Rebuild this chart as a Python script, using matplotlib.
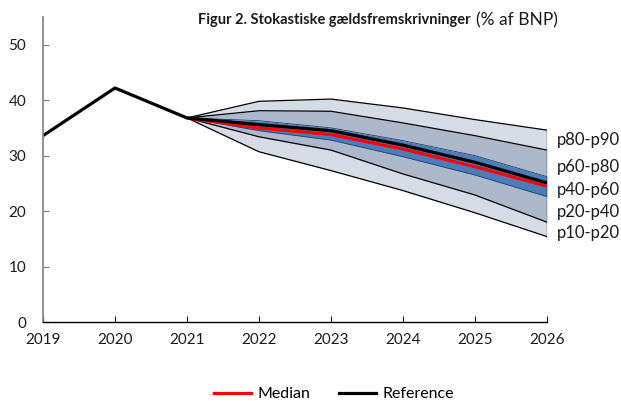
import matplotlib.pyplot as plt
from matplotlib.lines import Line2D

plt.rcParams['font.family'] = ['Lato', 'DejaVu Sans']

years = [2019, 2020, 2021, 2022, 2023, 2024, 2025, 2026]
reference = [33.6, 42.2, 36.8, 35.6, 34.5, 31.9, 28.8, 25.1]

fan_years = [2021, 2022, 2023, 2024, 2025, 2026]
median = [36.8, 35.0, 33.8, 31.2, 28.0, 24.5]
p10 = [36.8, 30.7, 27.3, 23.7, 19.7, 15.4]
p20 = [36.8, 33.4, 31.0, 26.7, 22.9, 18.0]
p40 = [36.8, 34.5, 32.8, 29.8, 26.5, 22.6]
p60 = [36.8, 36.3, 35.0, 32.7, 30.0, 26.2]
p80 = [36.8, 38.1, 38.0, 35.9, 33.6, 31.0]
p90 = [36.8, 39.8, 40.2, 38.6, 36.5, 34.6]

band_labels = ["p80-p90", "p60-p80", "p40-p60", "p20-p40", "p10-p20"]
label_y = [32.8, 28.0, 23.8, 19.8, 16.0]

light = "#d6dce5"
mid = "#adb9ca"
blue = "#4a7ebb"

fig = plt.figure(figsize=(6.21, 4.01), dpi=100)
ax = fig.add_axes([0.0692, 0.197, 0.8116, 0.7606])

bands = [(p10, p20, light), (p20, p40, mid), (p40, p60, blue),
         (p60, p80, mid), (p80, p90, light)]
for lo, hi, c in bands:
    ax.fill_between(fan_years, lo, hi, color=c, lw=0)
for s in [p10, p20, p80, p90]:
    ax.plot(fan_years, s, color="black", lw=0.9)
for s in [p40, p60]:
    ax.plot(fan_years, s, color="#1f3d66", lw=0.6)
ax.plot([2026, 2026], [p10[-1], p90[-1]], color="black", lw=0.9)

ax.plot(fan_years, median, color="#ff0000", lw=2.3, solid_capstyle="butt")
ax.plot(years, reference, color="black", lw=2.3, solid_capstyle="butt")

# labels for the bands, right of the fan
for lab, y in zip(band_labels, label_y):
    ax.text(2026.14, y, lab, fontsize=12, va="center", ha="left", color="#1a1a1a")

ax.set_xlim(2019, 2026)
ax.set_ylim(0, 55)
ax.set_yticks(range(0, 51, 10))
ax.set_xticks(years)
ax.tick_params(axis="both", direction="in", length=4, labelsize=11, colors="#1a1a1a")
ax.tick_params(axis="y", pad=12, color="#7f7f7f")
ax.tick_params(axis="x", pad=8)
ax.spines["top"].set_visible(False)
ax.spines["right"].set_visible(False)
ax.spines["left"].set_color("#7f7f7f")
ax.spines["left"].set_linewidth(1.2)
ax.spines["bottom"].set_color("black")
ax.spines["bottom"].set_linewidth(1.0)

fig.text(471 / 621, 1 - 20 / 401, "Figur 2. Stokastiske gældsfremskrivninger",
         fontsize=10.5, fontweight="bold", ha="right", va="center", color="#1a1a1a")
fig.text(476 / 621, 1 - 20 / 401, "(% af BNP)",
         fontsize=12.5, ha="left", va="center", color="#1a1a1a")

handles = [Line2D([], [], color="#ff0000", lw=2.3),
           Line2D([], [], color="black", lw=2.3)]
fig.legend(handles, ["Median", "Reference"], loc="center", bbox_to_anchor=(334 / 621, 1 - 394 / 401),
           ncol=2, frameon=False, fontsize=11.5, handlelength=2.3, columnspacing=1.8, handletextpad=0.4)

fig.savefig("out.png", dpi=100)
